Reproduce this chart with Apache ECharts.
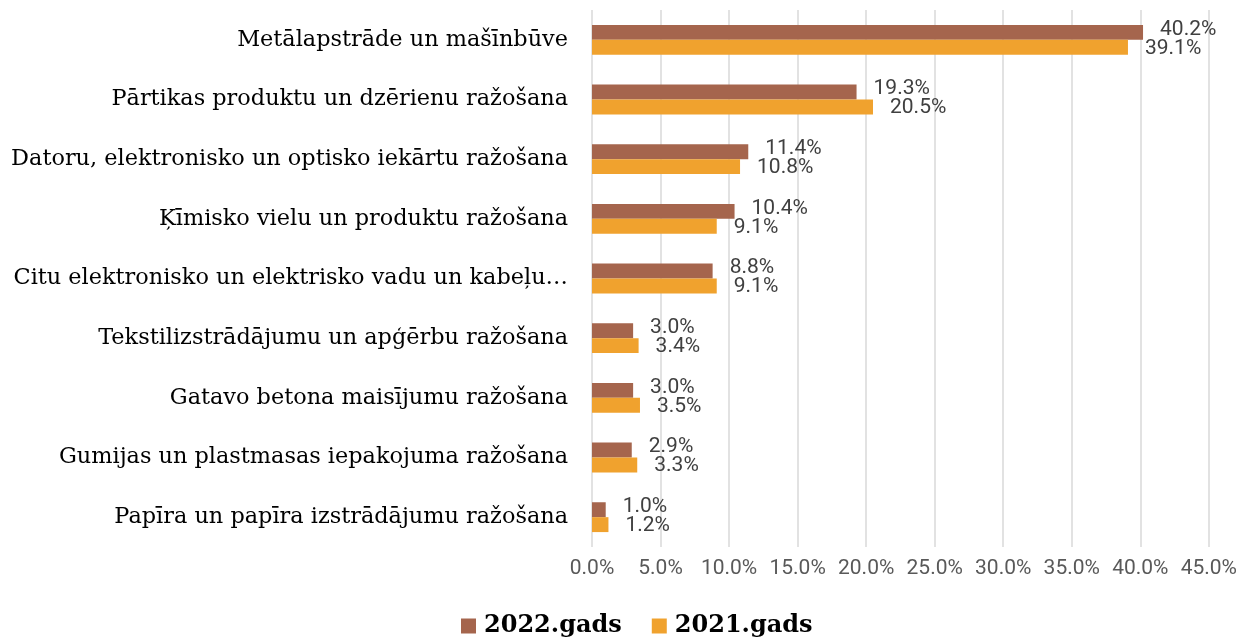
<!DOCTYPE html>
<html><head><meta charset="utf-8">
<script src="https://cdn.jsdelivr.net/npm/echarts@6/dist/echarts.min.js"></script>
<style>html,body{margin:0;padding:0;background:#fff}#c{width:1240px;height:639px}</style>
</head><body><div id="c"></div>
<script>
const categories = [
  "Metālapstrāde un mašīnbūve",
  "Pārtikas produktu un dzērienu ražošana",
  "Datoru, elektronisko un optisko iekārtu ražošana",
  "Ķīmisko vielu un produktu ražošana",
  "Citu elektronisko un elektrisko vadu un kabeļu…",
  "Tekstilizstrādājumu un apģērbu ražošana",
  "Gatavo betona maisījumu ražošana",
  "Gumijas un plastmasas iepakojuma ražošana",
  "Papīra un papīra izstrādājumu ražošana"
];
const values2022 = [40.2, 19.3, 11.4, 10.4, 8.8, 3.0, 3.0, 2.9, 1.0];
const values2021 = [39.1, 20.5, 10.8, 9.1, 9.1, 3.4, 3.5, 3.3, 1.2];
const seriesNames = ["2022.gads", "2021.gads"];
const xTicks = { min: 0, max: 45, interval: 5 };

const chart = echarts.init(document.getElementById('c'));
const labelStyle = (dy) => ({
  show: true, position: 'right', distance: 17, offset: [0, dy],
  color: '#404040', fontFamily: 'Roboto', fontSize: 21,
  formatter: p => p.value.toFixed(1) + '%'
});
chart.setOption({
  animation: false,
  grid: { left: 592, right: 30, top: 10, height: 537 },
  legend: {
    top: 609, left: 456, itemWidth: 15, itemHeight: 15, itemGap: 30,
    icon: 'rect',
    textStyle: { fontFamily: 'DejaVu Serif', fontWeight: 'bold', fontSize: 24, color: '#000',
      padding: [0, 0, 0, 3] },
    data: seriesNames
  },
  xAxis: {
    type: 'value', min: xTicks.min, max: xTicks.max, interval: xTicks.interval,
    axisLine: { show: false }, axisTick: { show: false },
    splitLine: { lineStyle: { color: '#d9d9d9', width: 1.5 } },
    axisLabel: { color: '#595959', fontFamily: 'Roboto', fontSize: 21, margin: 11,
      formatter: v => v.toFixed(1) + '%' }
  },
  yAxis: {
    type: 'category', data: categories, inverse: true,
    axisLine: { show: false }, axisTick: { show: false },
    axisLabel: { color: '#000', fontFamily: 'DejaVu Serif', fontSize: 22.4, margin: 24 }
  },
  series: [
    { name: seriesNames[0], type: 'bar', data: values2022, barGap: '0%', barCategoryGap: '50%',
      itemStyle: { color: '#a5654d' }, label: labelStyle(-3) },
    { name: seriesNames[1], type: 'bar', data: values2021, barGap: '0%', barCategoryGap: '50%',
      itemStyle: { color: '#f0a22e' }, label: labelStyle(1) }
  ]
});
</script></body></html>
